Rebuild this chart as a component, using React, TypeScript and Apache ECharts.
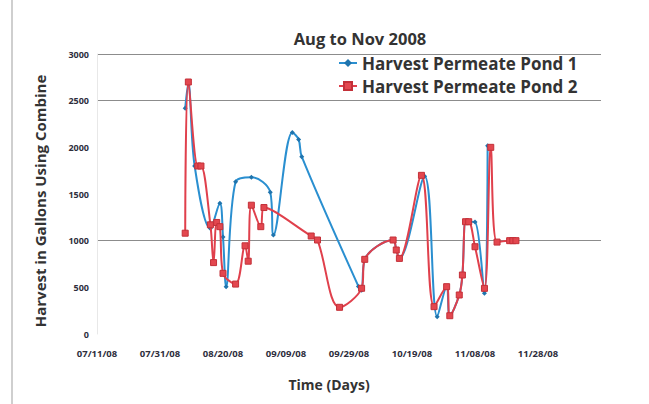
import { useEffect, useRef } from 'react';
import * as echarts from 'echarts';

// Time axis: days counted from the first tick date
const START_DATE = '2008-07-11';
const TICK_STEP_DAYS = 20;
const AXIS_SPAN_DAYS = 160;

// Gallons harvested per date
const pond1Dates = [
  '2008-08-08', '2008-08-09', '2008-08-11', '2008-08-16', '2008-08-19', '2008-08-20',
  '2008-08-21', '2008-08-24', '2008-08-29', '2008-09-04', '2008-09-05', '2008-09-11',
  '2008-09-13', '2008-09-14', '2008-10-02', '2008-10-03', '2008-10-04', '2008-10-13',
  '2008-10-14', '2008-10-15', '2008-10-23', '2008-10-27', '2008-10-30', '2008-10-31',
  '2008-11-03', '2008-11-04', '2008-11-05', '2008-11-06', '2008-11-08', '2008-11-11',
  '2008-11-12',
];
const pond1Gallons = [
  2420, 2690, 1800, 1130, 1400, 1040,
  507, 1630, 1680, 1520, 1060, 2160,
  2085, 1900, 510, 470, 800, 1007,
  900, 810, 1690, 186, 507, 196,
  418, 632, 1203, 1203, 1200, 436,
  2017,
];

const pond2Dates = [
  '2008-08-08', '2008-08-09', '2008-08-12', '2008-08-13', '2008-08-16', '2008-08-17',
  '2008-08-18', '2008-08-19', '2008-08-20', '2008-08-24', '2008-08-27', '2008-08-28',
  '2008-08-29', '2008-09-01', '2008-09-02', '2008-09-17', '2008-09-19', '2008-09-26',
  '2008-10-03', '2008-10-04', '2008-10-13', '2008-10-14', '2008-10-15', '2008-10-22',
  '2008-10-26', '2008-10-30', '2008-10-31', '2008-11-03', '2008-11-04', '2008-11-05',
  '2008-11-06', '2008-11-08', '2008-11-11', '2008-11-13', '2008-11-15', '2008-11-19',
  '2008-11-20', '2008-11-21',
];
const pond2Gallons = [
  1080, 2700, 1800, 1800, 1170, 765,
  1195, 1150, 650, 535, 945, 780,
  1380, 1150, 1355, 1050, 1007, 286,
  490, 800, 1007, 900, 810, 1700,
  293, 507, 196, 418, 632, 1203,
  1203, 935, 489, 2000, 985, 1000,
  1000, 1000,
];

// Value axis ticks, and the ones ruled across the plot
const yTicks = [0, 500, 1000, 1500, 2000, 2500, 3000];
const ruledValues = [1000, 2500, 3000];

const DAY_MS = 86400000;
const startMs = Date.parse(START_DATE);
const toDay = (d: string) => Math.round((Date.parse(d) - startMs) / DAY_MS);
const pad2 = (n: number) => String(n).padStart(2, '0');
const formatDay = (day: number) => {
  const dt = new Date(startMs + day * DAY_MS);
  return `${pad2(dt.getUTCMonth() + 1)}/${pad2(dt.getUTCDate())}/${pad2(dt.getUTCFullYear() % 100)}`;
};

const FONT = '"Open Sans", Lato, sans-serif';
const TEXT = '#333333';
const BLUE = '#2a8fd0';
const RED = '#e0404c';

export default function App() {
  const ref = useRef<HTMLDivElement>(null);

  useEffect(() => {
    if (!ref.current) return;
    const chart = echarts.init(ref.current, undefined, { renderer: 'svg' });
    const splitColors = yTicks.map((t) => (ruledValues.includes(t) ? '#8c8c8c' : 'rgba(0,0,0,0)'));

    chart.setOption({
      animation: false,
      backgroundColor: '#ffffff',
      textStyle: { fontFamily: FONT },
      title: {
        text: 'Aug to Nov 2008',
        left: 355,
        top: 25,
        textAlign: 'center',
        textStyle: { fontFamily: FONT, fontSize: 16.5, fontWeight: 'bold', color: TEXT },
      },
      legend: {
        left: 333,
        top: 49,
        orient: 'vertical',
        itemWidth: 18,
        itemHeight: 10,
        itemGap: 5,
        textStyle: { fontFamily: FONT, fontSize: 17, fontWeight: 'bold', color: TEXT, lineHeight: 18 },
        data: ['Harvest Permeate Pond 1', 'Harvest Permeate Pond 2'],
      },
      grid: { left: 97, right: 48, top: 54, bottom: 70 },
      xAxis: {
        type: 'value',
        min: 0,
        max: AXIS_SPAN_DAYS,
        interval: TICK_STEP_DAYS,
        axisLine: { show: false },
        axisTick: { show: false },
        splitLine: { show: false },
        axisLabel: {
          margin: 14,
          fontFamily: FONT,
          fontSize: 9.5,
          fontWeight: 'bold',
          color: '#2e2e3c',
          formatter: (v: number) => (v >= AXIS_SPAN_DAYS ? '' : formatDay(v)),
        },
      },
      yAxis: {
        type: 'value',
        min: 0,
        max: 3000,
        interval: 500,
        axisLine: { show: true, lineStyle: { color: '#e8e8e8', width: 1 } },
        axisTick: { show: false },
        splitLine: { show: true, lineStyle: { color: splitColors, width: 1 } },
        axisLabel: {
          margin: 8,
          fontFamily: FONT,
          fontSize: 9,
          fontWeight: 'bold',
          color: '#2e2e3c',
          formatter: (v: number) => String(v),
        },
      },
      graphic: [
        {
          type: 'line',
          shape: { x1: 12, y1: 0, x2: 12, y2: 404 },
          style: { stroke: '#cfcfcf', lineWidth: 2 },
        },
        {
          type: 'text',
          x: 40,
          y: 201,
          rotation: Math.PI / 2,
          style: {
            text: 'Harvest in Gallons Using Combine',
            fontFamily: FONT,
            fontSize: 15,
            fontWeight: 'bold',
            fill: TEXT,
            align: 'center',
            verticalAlign: 'middle',
          },
        },
        {
          type: 'text',
          x: 329,
          y: 384,
          style: {
            text: 'Time (Days)',
            fontFamily: FONT,
            fontSize: 14,
            fontWeight: 'bold',
            fill: TEXT,
            align: 'center',
            verticalAlign: 'middle',
          },
        },
      ],
      series: [
        {
          name: 'Harvest Permeate Pond 1',
          type: 'line',
          smooth: 0.35,
          symbol: 'diamond',
          symbolSize: 5,
          itemStyle: { color: '#1f74ad' },
          lineStyle: { color: BLUE, width: 2 },
          data: pond1Dates.map((d, i) => [toDay(d), pond1Gallons[i]]),
          z: 3,
        },
        {
          name: 'Harvest Permeate Pond 2',
          type: 'line',
          smooth: 0.35,
          symbol: 'rect',
          symbolSize: 6,
          itemStyle: { color: '#e3474f', borderColor: '#c33038', borderWidth: 1 },
          lineStyle: { color: RED, width: 2 },
          data: pond2Dates.map((d, i) => [toDay(d), pond2Gallons[i]]),
          z: 4,
        },
      ],
    });

    return () => chart.dispose();
  }, []);

  return (
    <div
      ref={ref}
      style={{ position: 'fixed', left: 0, top: 0, width: 649, height: 404, background: '#ffffff' }}
    />
  );
}
